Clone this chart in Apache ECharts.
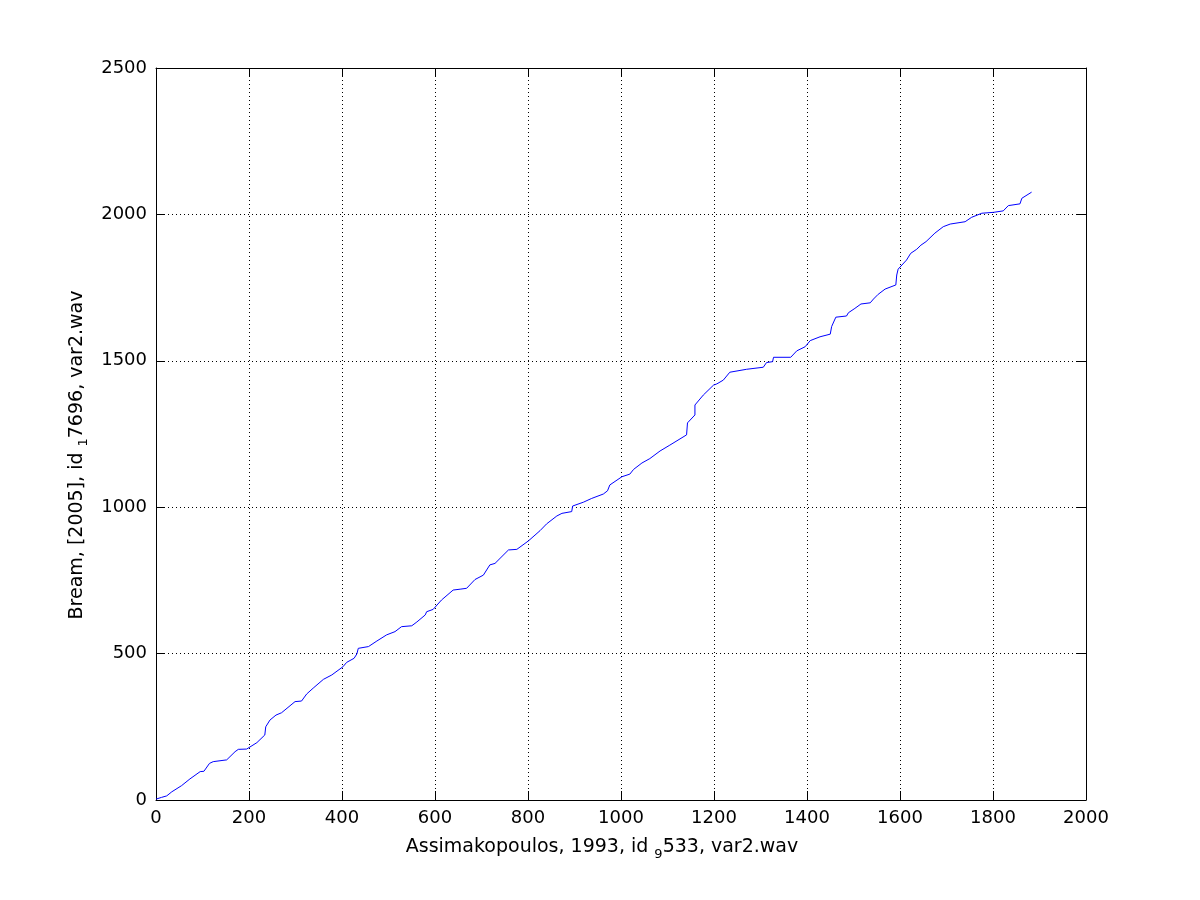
<!DOCTYPE html>
<html>
<head>
<meta charset="utf-8">
<script src="https://cdn.jsdelivr.net/npm/echarts@6/dist/echarts.min.js"></script>
<style>html,body{margin:0;padding:0;background:#fff}#c{width:1200px;height:900px}</style>
</head>
<body>
<div id="c"></div>
<script>
// Alignment path values
var xVals = [0, 12, 23, 34, 55, 73, 95, 103, 115, 123, 152, 170, 177, 195, 217, 234, 236, 245, 258, 270,
  299, 313, 324, 338, 360, 378, 402, 410, 426, 432, 435, 457, 475, 496, 514, 528, 550, 561, 579, 582,
  596, 614, 639, 654, 668, 686, 704, 718, 729, 758, 776, 801, 826, 840, 862, 873, 894, 896, 919, 937,
  962, 971, 976, 1002, 1019, 1027, 1045, 1062, 1084, 1105, 1141, 1143, 1159, 1159, 1177, 1199, 1206, 1220, 1234, 1270,
  1306, 1313, 1326, 1328, 1365, 1378, 1396, 1407, 1428, 1450, 1453, 1462, 1485, 1489, 1503, 1516, 1536, 1543, 1553, 1568,
  1591, 1593, 1596, 1614, 1623, 1636, 1645, 1656, 1675, 1693, 1708, 1740, 1754, 1776, 1801, 1822, 1833, 1858, 1862, 1883];
var yVals = [3, 9, 14, 28, 49, 72, 97, 98, 125, 131, 137, 165, 173, 174, 196, 222, 250, 273, 290, 298,
  336, 338, 362, 382, 412, 427, 455, 470, 484, 499, 518, 524, 543, 564, 575, 592, 595, 608, 632, 643,
  651, 683, 717, 720, 723, 753, 768, 803, 808, 854, 856, 885, 920, 943, 970, 979, 985, 1004, 1017, 1030,
  1045, 1056, 1076, 1104, 1113, 1129, 1151, 1166, 1192, 1212, 1247, 1288, 1315, 1349, 1383, 1417, 1421, 1434, 1461, 1471,
  1478, 1494, 1497, 1512, 1512, 1534, 1548, 1569, 1582, 1591, 1617, 1649, 1653, 1664, 1679, 1694, 1698, 1711, 1727, 1745,
  1759, 1793, 1813, 1844, 1867, 1881, 1895, 1907, 1936, 1958, 1967, 1975, 1990, 2004, 2007, 2012, 2030, 2036, 2055, 2076];
var xTicks = [0, 200, 400, 600, 800, 1000, 1200, 1400, 1600, 1800, 2000];
var yTicks = [0, 500, 1000, 1500, 2000, 2500];
var xLabelText = 'Assimakopoulos, 1993, id {sub|9}533, var2.wav';
var yLabelText = 'Bream, [2005], id {sub|1}7696, var2.wav';

var pts = xVals.map(function (x, i) { return [x, yVals[i]]; });
var font = 'DejaVu Sans';
var rich = { sub: { fontSize: 13, fontFamily: font, color: '#000', padding: [14, 0, 0, 0] } };
function baseAxis(ticks, show, pos) {
  return {
    type: 'value', position: pos,
    min: ticks[0], max: ticks[ticks.length - 1], interval: ticks[1] - ticks[0],
    axisLine: { show: true, onZero: false, lineStyle: { color: '#000', width: 1 } },
    axisTick: { show: true, inside: true, length: 9, lineStyle: { color: '#000' } },
    axisLabel: { show: show, color: '#000', fontFamily: font, fontSize: 18,
      formatter: function (v) { return String(v); } },
    splitLine: { show: show, lineStyle: { color: '#000', type: [1, 3], width: 1 } }
  };
}
var xa = baseAxis(xTicks, true, 'bottom');
xa.axisLabel.margin = 9;
xa.name = xLabelText; xa.nameLocation = 'middle'; xa.nameGap = 34;
xa.nameTextStyle = { color: '#000', fontFamily: font, fontSize: 19, rich: rich, padding: [0, 38, 0, 0] };
var xt = baseAxis(xTicks, false, 'top');
var ya = baseAxis(yTicks, true, 'left');
ya.axisLabel.margin = 9;
ya.name = yLabelText; ya.nameLocation = 'middle'; ya.nameGap = 64;
ya.nameTextStyle = { color: '#000', fontFamily: font, fontSize: 19, rich: rich, padding: [0, 42, 0, 0] };
var yr = baseAxis(yTicks, false, 'right');

var chart = echarts.init(document.getElementById('c'), null, { renderer: 'canvas' });
chart.setOption({
  animation: false,
  backgroundColor: '#fff',
  grid: { left: 156, right: 114, top: 68, bottom: 100, containLabel: false },
  xAxis: [xa, xt],
  yAxis: [ya, yr],
  series: [{
    type: 'line', data: pts, xAxisIndex: 0, yAxisIndex: 0,
    showSymbol: false, symbol: 'none',
    lineStyle: { color: '#0000ff', width: 1 }
  }]
});
</script>
</body>
</html>
